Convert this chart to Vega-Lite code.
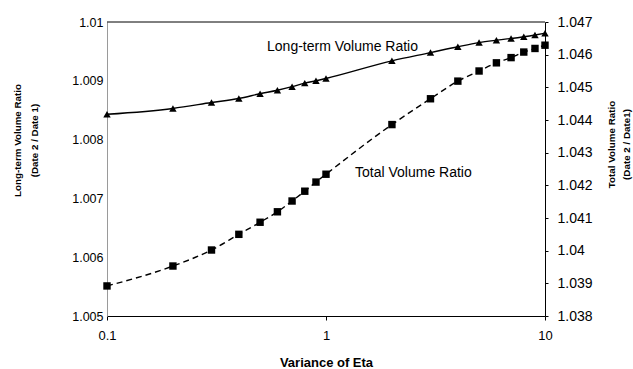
{
  "$schema": "https://vega.github.io/schema/vega-lite/v6.json",
  "width": 438,
  "height": 294,
  "autosize": {"type": "none"},
  "padding": {"left": 107, "top": 22, "right": 88, "bottom": 53},
  "background": "white",
  "config": {
    "view": {"stroke": null},
    "font": "Liberation Sans",
    "axis": {"grid": false, "labelFont": "Liberation Sans", "titleFont": "Liberation Sans", "labelColor": "black", "titleColor": "black", "domainColor": "black", "tickColor": "black", "labelOverlap": false, "labelFlush": false}
  },
  "datasets": {
    "ratios": [
      {"eta": 0.1, "longterm": 1.00843, "total": 1.03892},
      {"eta": 0.2, "longterm": 1.00853, "total": 1.03953},
      {"eta": 0.3, "longterm": 1.00863, "total": 1.04002},
      {"eta": 0.4, "longterm": 1.0087, "total": 1.0405},
      {"eta": 0.5, "longterm": 1.00878, "total": 1.04087},
      {"eta": 0.6, "longterm": 1.00884, "total": 1.04119},
      {"eta": 0.7, "longterm": 1.0089, "total": 1.04152},
      {"eta": 0.8, "longterm": 1.00896, "total": 1.04182},
      {"eta": 0.9, "longterm": 1.009, "total": 1.0421},
      {"eta": 1, "longterm": 1.00904, "total": 1.04234},
      {"eta": 2, "longterm": 1.00934, "total": 1.04386},
      {"eta": 3, "longterm": 1.00948, "total": 1.04465},
      {"eta": 4, "longterm": 1.00958, "total": 1.04519},
      {"eta": 5, "longterm": 1.00965, "total": 1.0455},
      {"eta": 6, "longterm": 1.00969, "total": 1.04575},
      {"eta": 7, "longterm": 1.00972, "total": 1.04591},
      {"eta": 8, "longterm": 1.00975, "total": 1.04608},
      {"eta": 9, "longterm": 1.00978, "total": 1.04619},
      {"eta": 10, "longterm": 1.00981, "total": 1.04629}
    ],
    "labelsLeft": [{"eta": 0.538, "longterm": 1.009575, "label": "Long-term Volume Ratio"}],
    "labelsRight": [{"eta": 1.357, "total": 1.04238, "label": "Total Volume Ratio"}],
    "frame": [{"eta": 0.1, "eta2": 10, "longterm": 1.01}]
  },
  "layer": [
    {
      "encoding": {
        "x": {
          "field": "eta", "type": "quantitative",
          "scale": {"type": "log", "domain": [0.1, 10], "nice": false},
          "axis": {"values": [0.1, 1, 10], "format": "~g", "title": "Variance of Eta", "labelFontSize": 13, "labelPadding": 9, "tickSize": 4, "labelOverlap": false, "titleFontSize": 13, "titleFontWeight": "bold", "titleBaseline": "middle", "titleY": 46, "titleX": 219}
        },
        "y": {
          "field": "longterm", "type": "quantitative",
          "scale": {"domain": [1.005, 1.01], "nice": false, "zero": false},
          "axis": {"values": [1.005, 1.006, 1.007, 1.008, 1.009, 1.01], "format": "~g", "labelOverlap": false, "domainColor": "#9a9a9a", "tickSize": 0, "labelPadding": 4, "labelFontSize": 12.5, "title": ["Long-term Volume Ratio", "(Date 2 / Date 1)"], "titleFont": "Liberation Sans Narrow, Liberation Sans", "titleFontSize": 9.8, "titleFontWeight": "bold", "titleAngle": -90, "titleBaseline": "middle", "titleAlign": "center", "titleLineHeight": 17, "titleX": -90, "titleY": 118}
        }
      },
      "layer": [
        {
          "data": {"name": "ratios"},
          "mark": {"type": "line", "color": "black", "strokeWidth": 1.4, "interpolate": "monotone"}
        },
        {
          "data": {"name": "ratios"},
          "mark": {"type": "point", "shape": "triangle-up", "filled": true, "color": "black", "opacity": 1, "size": 55}
        },
        {
          "data": {"name": "labelsLeft"},
          "mark": {"type": "text", "align": "left", "baseline": "middle", "fontSize": 14, "color": "black"},
          "encoding": {"text": {"field": "label"}}
        },
        {
          "data": {"name": "frame"},
          "mark": {"type": "rule", "color": "black", "strokeWidth": 1},
          "encoding": {"x2": {"field": "eta2"}}
        }
      ]
    },
    {
      "encoding": {
        "x": {"field": "eta", "type": "quantitative"},
        "y": {
          "field": "total", "type": "quantitative",
          "scale": {"domain": [1.038, 1.047], "nice": false, "zero": false},
          "axis": {"orient": "right", "values": [1.038, 1.039, 1.04, 1.041, 1.042, 1.043, 1.044, 1.045, 1.046, 1.047], "format": "~g", "labelOverlap": false, "tickSize": 3, "labelPadding": 9, "labelFontSize": 14, "title": ["Total Volume Ratio", "(Date 2 / Date1)"], "titleFont": "Liberation Sans Narrow, Liberation Sans", "titleFontSize": 9.8, "titleFontWeight": "bold", "titleAngle": -90, "titleBaseline": "middle", "titleAlign": "center", "titleLineHeight": 15, "titleX": 66, "titleY": 122}
        }
      },
      "layer": [
        {
          "data": {"name": "ratios"},
          "mark": {"type": "line", "color": "black", "strokeWidth": 1.4, "strokeDash": [6, 4], "interpolate": "monotone"}
        },
        {
          "data": {"name": "ratios"},
          "mark": {"type": "point", "shape": "square", "filled": true, "color": "black", "opacity": 1, "size": 55}
        },
        {
          "data": {"name": "labelsRight"},
          "mark": {"type": "text", "align": "left", "baseline": "middle", "fontSize": 14, "color": "black"},
          "encoding": {"text": {"field": "label"}}
        }
      ]
    }
  ],
  "resolve": {"scale": {"y": "independent"}}
}
